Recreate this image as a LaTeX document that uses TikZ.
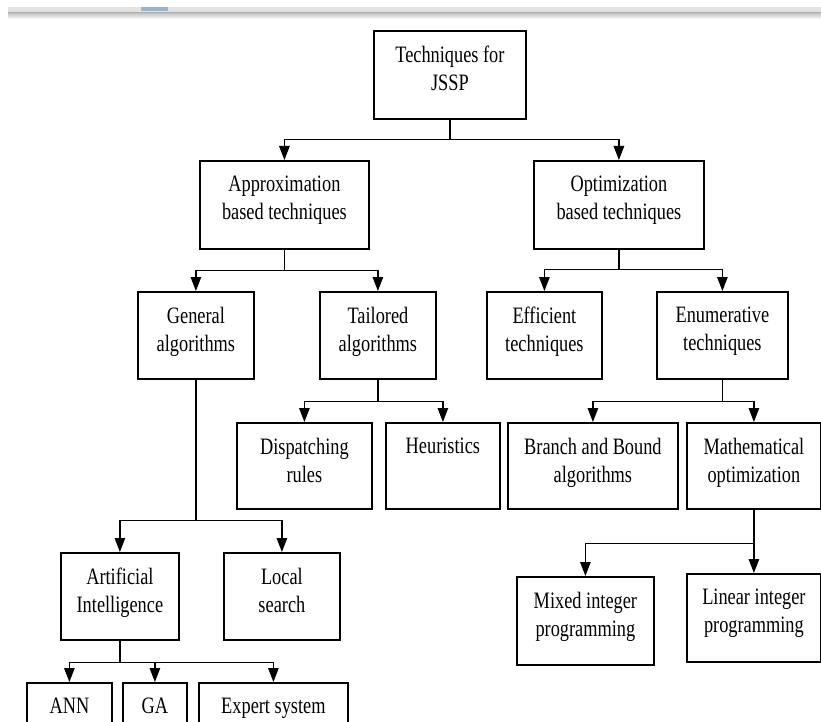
\documentclass[tikz,border=0pt]{standalone}
\usepackage{fontspec}
\setmainfont{Liberation Serif}[FakeStretch=0.78]
\usetikzlibrary{arrows.meta}

\definecolor{tabblue}{RGB}{154,180,204}

\tikzset{
	box/.style={draw, line width=1.8bp, inner sep=0pt, anchor=north west},
	boxtext/.style={align=center, anchor=north, inner sep=0pt, yshift=-16bp, font=\fontsize{23.5bp}{27.5bp}\selectfont},
	conn/.style={line width=1.2bp},
	arr/.style={line width=1.2bp, -{Triangle[length=14bp,width=10.5bp]}}
}

\begin{document}
\begin{tikzpicture}[x=1bp,y=-1bp]
		\clip (0,0) rectangle (821,722);
		
		%window bar
		\fill[gray!22] (8,7) rectangle (821,12);
		\fill[gray!65] (8,12) rectangle (821,14);
		\shade[top color=gray!40, bottom color=white] (8,14) rectangle (821,19);
		\fill[tabblue] (141,7) rectangle (168,11);
		
		%level 0 and 1
		\node[box, minimum width=152bp, minimum height=88bp, label={[boxtext]north:{Techniques for\\JSSP}}] (root) at (373,30) {};
		\node[box, minimum width=169bp, minimum height=88bp, label={[boxtext]north:{Approximation\\based techniques}}] (approx) at (199,160) {};
		\node[box, minimum width=170bp, minimum height=88bp, label={[boxtext]north:{Optimization\\based techniques}}] (optim) at (533,160) {};
		
		%level 2
		\node[box, minimum width=116bp, minimum height=87bp, label={[boxtext]north:{General\\algorithms}}] (general) at (137,291) {};
		\node[box, minimum width=116bp, minimum height=87bp, label={[boxtext]north:{Tailored\\algorithms}}] (tailored) at (319,291) {};
		\node[box, minimum width=115bp, minimum height=87bp, label={[boxtext]north:{Efficient\\techniques}}] (efficient) at (486,291) {};
		\node[box, minimum width=131bp, minimum height=87bp, label={[boxtext]north:{Enumerative\\techniques}}] (enum) at (656,291) {};
		
		%level 3
		\node[box, minimum width=135bp, minimum height=86bp, label={[boxtext]north:{Dispatching\\rules}}] (dispatch) at (236,422) {};
		\node[box, minimum width=114bp, minimum height=86bp, label={[boxtext]north:{Heuristics}}] (heur) at (385,422) {};
		\node[box, minimum width=170bp, minimum height=86bp, label={[boxtext]north:{Branch and Bound\\algorithms}}] (bnb) at (507,422) {};
		\node[box, minimum width=134bp, minimum height=86bp, label={[boxtext]north:{Mathematical\\optimization}}] (math) at (686,422) {};
		
		%level 4
		\node[box, minimum width=118bp, minimum height=87bp, label={[boxtext]north:{Artificial\\Intelligence}}] (ai) at (60,552) {};
		\node[box, minimum width=116bp, minimum height=87bp, label={[boxtext]north:{Local\\search}}] (local) at (223,552) {};
		\node[box, minimum width=137bp, minimum height=88bp, label={[boxtext]north:{Mixed integer\\programming}}] (mixed) at (516,576) {};
		\node[box, minimum width=134bp, minimum height=88bp, label={[boxtext]north:{Linear integer\\programming}}] (linear) at (686,573) {};
		
		%level 5
		\node[box, minimum width=85bp, minimum height=60bp, label={[boxtext]north:{ANN}}] (ann) at (26,682) {};
		\node[box, minimum width=64bp, minimum height=60bp, label={[boxtext]north:{GA}}] (ga) at (122,682) {};
		\node[box, minimum width=149bp, minimum height=60bp, label={[boxtext]north:{Expert system}}] (expert) at (198,682) {};
		
		%connectors
		\draw[conn] (root.south) -- ++(0,20) coordinate (j0);
		\draw[arr] (j0) -| (approx.north);
		\draw[arr] (j0) -| (optim.north);
		
		\draw[conn] (approx.south) -- ++(0,21) coordinate (j1);
		\draw[arr] (j1) -| (general.north);
		\draw[arr] (j1) -| (tailored.north);
		
		\draw[conn] (optim.south) -- ++(0,20) coordinate (j2);
		\draw[arr] (j2) -| (efficient.north);
		\draw[arr] (j2) -| (enum.north);
		
		\draw[conn] (tailored.south) -- ++(0,22) coordinate (j3);
		\draw[arr] (j3) -| (dispatch.north);
		\draw[arr] (j3) -| (heur.north);
		
		\draw[conn] (enum.south) -- ++(0,22) coordinate (j4);
		\draw[arr] (j4) -| (bnb.north);
		\draw[arr] (j4) -| (math.north);
		
		\draw[conn] (general.south) -- ++(0,141) coordinate (j5);
		\draw[arr] (j5) -| (ai.north);
		\draw[arr] (j5) -| (local.north);
		
		\draw[conn] (math.south) -- ++(0,34) coordinate (j6);
		\draw[arr] (j6) -| (mixed.north);
		\draw[arr] (j6) -- (linear.north);
		
		\draw[conn] (ai.south) -- ++(0,22) coordinate (j7);
		\draw[arr] (j7) -| (ann.north);
		\draw[arr] (j7) -| (ga.north);
		\draw[arr] (j7) -| (expert.north);
\end{tikzpicture}
\end{document}
